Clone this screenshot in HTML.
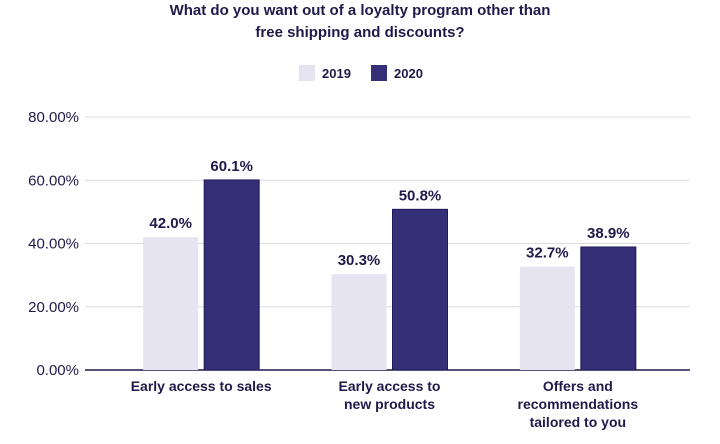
<!DOCTYPE html>
<html><head><meta charset="utf-8"><style>
body{margin:0;background:#fff;width:720px;height:439px;overflow:hidden;font-family:"Liberation Sans",sans-serif}
</style></head><body>
<svg id="chart" width="720" height="439" xmlns="http://www.w3.org/2000/svg">
<text x="360" y="15" text-anchor="middle" font-size="15" font-weight="bold" fill="#1f1a4a">What do you want out of a loyalty program other than</text>
<text x="360" y="37" text-anchor="middle" font-size="15" font-weight="bold" fill="#1f1a4a">free shipping and discounts?</text>
<g>
<rect x="299" y="65" width="16" height="16" fill="#e6e4f1"/>
<text x="322" y="78" font-size="13" font-weight="bold" fill="#1f1a4a">2019</text>
<rect x="371" y="65" width="16" height="16" fill="#352f77"/>
<text x="394" y="78" font-size="13" font-weight="bold" fill="#1f1a4a">2020</text>
</g>
<g id="grid"></g><g id="bars"></g><g id="labels"></g>
</svg>
<script>
const categories=[["Early access to sales"],["Early access to","new products"],["Offers and","recommendations","tailored to you"]];
const values2019=[42.0,30.3,32.7];
const values2020=[60.1,50.8,38.9];
const yTicks=[0,20,40,60,80];
const ns="http://www.w3.org/2000/svg";
const y0=370,yTop=117,yMax=80,xL=85,xR=690,bandX=107,bandW=565;
const y=v=>y0-(v/yMax)*(y0-yTop);
const bw=bandW/categories.length;
const cx=i=>bandX+bw*(i+0.5);
function mk(t,a,p){const e=document.createElementNS(ns,t);for(const k in a)e.setAttribute(k,a[k]);p.appendChild(e);return e;}
const grid=document.getElementById('grid'),bars=document.getElementById('bars'),labels=document.getElementById('labels');
yTicks.forEach(t=>{
 const l=mk('line',{x1:xL,x2:xR,y1:y(t),y2:y(t),stroke:t===0?'#1f1a4a':'#dcdcdc','stroke-width':t===0?1.5:1},grid);
 
 
 const tx=mk('text',{x:79,y:y(t)+5,'text-anchor':'end','font-size':15,fill:'#1f1a4a'},grid);
 tx.textContent=t.toFixed(2)+'%';
 
 
});
categories.forEach((c,i)=>{
 [[values2019[i],'#e6e4f1','none',-1],[values2020[i],'#352f77','#1f1a5a',1]].forEach(([v,f,s,d],j)=>{
  const x=d<0?cx(i)-58:cx(i)+3;
  const r=mk('rect',{x:x,y:y(v),width:55,height:y0-y(v),fill:f,stroke:s,'stroke-width':1},bars);
  
  
  const t=mk('text',{x:x+27.5,y:y(v)-9,'text-anchor':'middle','font-size':15,'font-weight':'bold',fill:'#1f1a4a'},labels);
  t.textContent=v.toFixed(1)+'%';
  
  
 });
 c.forEach((line,k)=>{
  const t=mk('text',{x:cx(i),y:391+k*18,'text-anchor':'middle','font-size':14,'font-weight':'bold',fill:'#1f1a4a'},labels);
  t.textContent=line;
  
  
 });
});
</script>
</body></html>
